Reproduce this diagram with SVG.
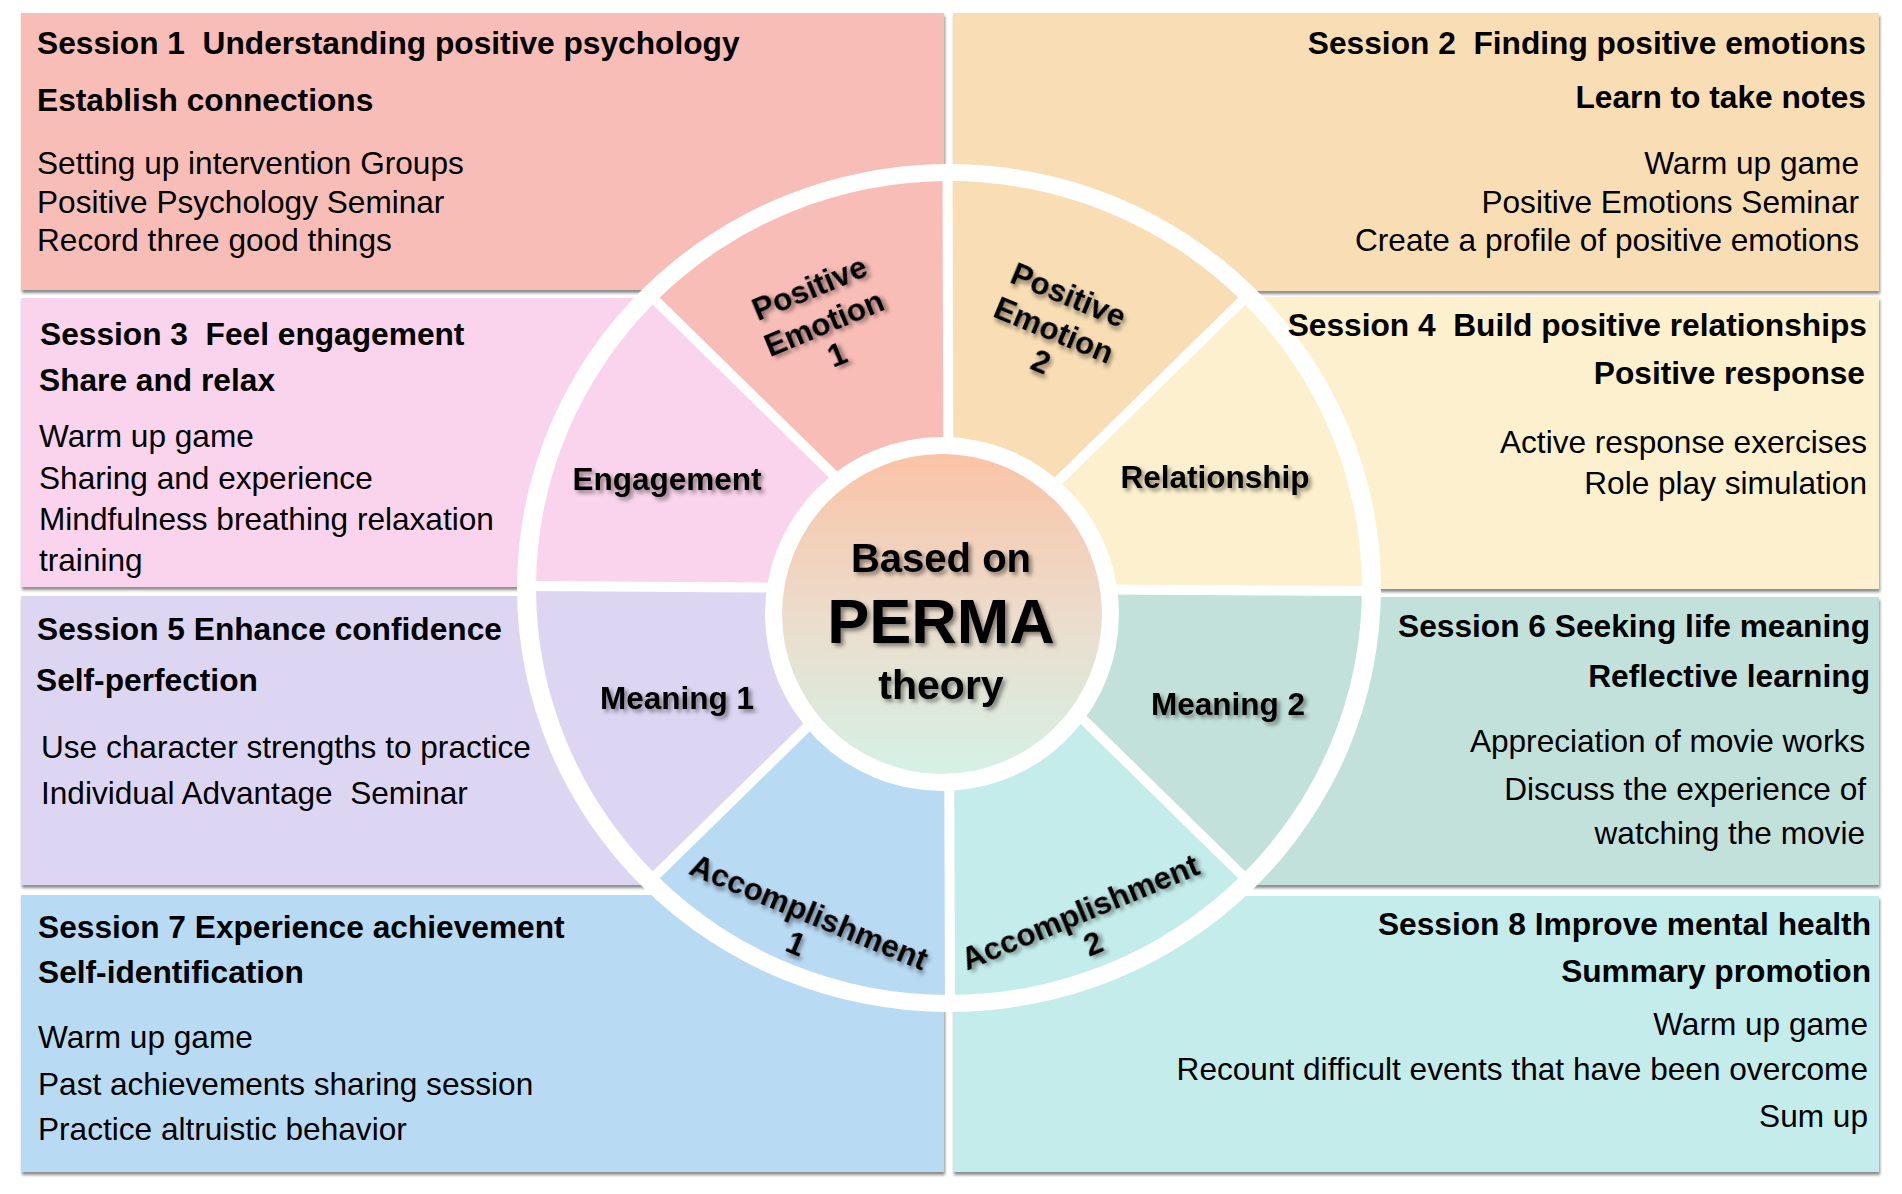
<svg xmlns="http://www.w3.org/2000/svg" width="1902" height="1194" viewBox="0 0 1902 1194">
<defs>
<style>
text{font-family:"Liberation Sans",Arial,sans-serif;fill:#000}
.h{font-size:31.7px;font-weight:bold}
.b{font-size:31.6px}
.r{text-anchor:end}
.w{font-size:31.5px;font-weight:bold;text-anchor:middle}
.c{font-weight:bold;text-anchor:middle}
.spoke{stroke:#fff;stroke-width:10;fill:none}
.panel{filter:url(#psh)}
.lbl{filter:url(#tsh)}
</style>
<filter id="psh" x="-5%" y="-5%" width="110%" height="115%"><feDropShadow dx="1" dy="3" stdDeviation="1.8" flood-color="#6e6e6e" flood-opacity="0.8"/></filter>
<filter id="tsh" x="-30%" y="-40%" width="160%" height="180%"><feDropShadow dx="3" dy="3" stdDeviation="2" flood-color="#000" flood-opacity="0.45"/></filter>
<linearGradient id="cg" x1="0" y1="0" x2="0" y2="1"><stop offset="0" stop-color="#FAC3A6"/><stop offset="0.5" stop-color="#ECDCCB"/><stop offset="1" stop-color="#D5F1E5"/></linearGradient>
</defs>
<rect width="1902" height="1194" fill="#fff"/>
<g id="panels">
<rect id="p1-bg" class="panel" x="21" y="13" width="923" height="277" fill="#F8BDB6"/>
<rect id="p2-bg" class="panel" x="953" y="13" width="926" height="278" fill="#F8DDB5"/>
<rect id="p3-bg" class="panel" x="21" y="298" width="923" height="289" fill="#F9D4EC"/>
<rect id="p4-bg" class="panel" x="953" y="297" width="926" height="292" fill="#FCF0CE"/>
<rect id="p5-bg" class="panel" x="21" y="596" width="923" height="289" fill="#DDD6F3"/>
<rect id="p6-bg" class="panel" x="953" y="597" width="926" height="288" fill="#C2E1DA"/>
<rect id="p7-bg" class="panel" x="21" y="895" width="923" height="277" fill="#B9DAF3"/>
<rect id="p8-bg" class="panel" x="953" y="896" width="926" height="276" fill="#C3ECEA"/>
</g>
<g id="wheel">
<ellipse cx="949" cy="588" rx="432" ry="424" fill="#fff"/>
<path id="s-pe2" d="M949,588 L949,181 A413,407 0 0 1 1241.04,300.21 Z" fill="#F8DDB5"/>
<path id="s-rel" d="M949,588 L1241.04,300.21 A413,407 0 0 1 1362,588 Z" fill="#FCF0CE"/>
<path id="s-m2" d="M949,588 L1362,588 A413,407 0 0 1 1241.04,875.79 Z" fill="#C2E1DA"/>
<path id="s-a2" d="M949,588 L1241.04,875.79 A413,407 0 0 1 949,995 Z" fill="#C3ECEA"/>
<path id="s-a1" d="M949,588 L949,995 A413,407 0 0 1 656.96,875.79 Z" fill="#B9DAF3"/>
<path id="s-m1" d="M949,588 L656.96,875.79 A413,407 0 0 1 536,588 Z" fill="#DDD6F3"/>
<path id="s-eng" d="M949,588 L536,588 A413,407 0 0 1 656.96,300.21 Z" fill="#F9D4EC"/>
<path id="s-pe1" d="M949,588 L656.96,300.21 A413,407 0 0 1 949,181 Z" fill="#F8BDB6"/>
</g>
<g id="connectors">
<line class="spoke" x1="947.5" y1="172" x2="950" y2="1004"/>
<line class="spoke" x1="526" y1="586" x2="1372" y2="591" stroke-width="11"/>
<line class="spoke" x1="652" y1="297" x2="1246" y2="879"/>
<line class="spoke" x1="1246" y1="297" x2="652" y2="879"/>
</g>
<g id="center">
<circle cx="942" cy="614" r="177" fill="#fff"/>
<circle cx="942" cy="614" r="160" fill="url(#cg)"/>
<g class="lbl">
<text class="c" x="941" y="572" font-size="40">Based on</text>
<text class="c" x="941" y="643" font-size="63">PERMA</text>
<text class="c" x="941" y="699" font-size="41">theory</text>
</g>
</g>
<g id="lbl-pe1" class="lbl" transform="translate(824,323) rotate(-22.5)"><text class="w" y="-27">Positive</text><text class="w" y="11">Emotion</text><text class="w" y="45">1</text></g>
<g id="lbl-pe2" class="lbl" transform="translate(1054,330) rotate(22.5)"><text class="w" y="-27">Positive</text><text class="w" y="11">Emotion</text><text class="w" y="45">2</text></g>
<g id="lbl-eng" class="lbl"><text class="w" x="667" y="490">Engagement</text></g>
<g id="lbl-rel" class="lbl"><text class="w" x="1215" y="488">Relationship</text></g>
<g id="lbl-m1" class="lbl"><text class="w" x="677" y="709">Meaning 1</text></g>
<g id="lbl-m2" class="lbl"><text class="w" x="1228" y="715">Meaning 2</text></g>
<g id="lbl-a1" class="lbl" transform="translate(809,912) rotate(22.5)"><text class="w" y="11">Accomplishment</text><text class="w" y="45">1</text></g>
<g id="lbl-a2" class="lbl" transform="translate(1080,912) rotate(-22.5)"><text class="w" y="11">Accomplishment</text><text class="w" y="45">2</text></g>
<g id="session1">
<text class="h" x="37" y="54" xml:space="preserve">Session 1  Understanding positive psychology</text>
<text class="h" x="37" y="111">Establish connections</text>
<text class="b" x="37" y="174">Setting up intervention Groups</text>
<text class="b" x="37" y="213">Positive Psychology Seminar</text>
<text class="b" x="37" y="251">Record three good things</text>
</g>
<g id="session2">
<text class="h r" x="1866" y="54" xml:space="preserve">Session 2  Finding positive emotions</text>
<text class="h r" x="1866" y="108">Learn to take notes</text>
<text class="b r" x="1859" y="174">Warm up game</text>
<text class="b r" x="1859" y="213">Positive Emotions Seminar</text>
<text class="b r" x="1859" y="251">Create a profile of positive emotions</text>
</g>
<g id="session3">
<text class="h" x="40" y="345" xml:space="preserve">Session 3  Feel engagement</text>
<text class="h" x="39" y="391">Share and relax</text>
<text class="b" x="39" y="447">Warm up game</text>
<text class="b" x="39" y="489">Sharing and experience</text>
<text class="b" x="39" y="530">Mindfulness breathing relaxation</text>
<text class="b" x="39" y="571">training</text>
</g>
<g id="session4">
<text class="h r" x="1867" y="336" xml:space="preserve">Session 4  Build positive relationships</text>
<text class="h r" x="1865" y="384">Positive response</text>
<text class="b r" x="1867" y="453">Active response exercises</text>
<text class="b r" x="1867" y="494">Role play simulation</text>
</g>
<g id="session5">
<text class="h" x="37" y="640">Session 5 Enhance confidence</text>
<text class="h" x="36" y="691">Self-perfection</text>
<text class="b" x="41" y="758">Use character strengths to practice</text>
<text class="b" x="41" y="804" xml:space="preserve">Individual Advantage  Seminar</text>
</g>
<g id="session6">
<text class="h r" x="1870" y="637">Session 6 Seeking life meaning</text>
<text class="h r" x="1870" y="687">Reflective learning</text>
<text class="b r" x="1865" y="752">Appreciation of movie works</text>
<text class="b r" x="1866" y="800">Discuss the experience of</text>
<text class="b r" x="1865" y="844">watching the movie</text>
</g>
<g id="session7">
<text class="h" x="38" y="938">Session 7 Experience achievement</text>
<text class="h" x="38" y="983">Self-identification</text>
<text class="b" x="38" y="1048">Warm up game</text>
<text class="b" x="38" y="1095">Past achievements sharing session</text>
<text class="b" x="38" y="1140">Practice altruistic behavior</text>
</g>
<g id="session8">
<text class="h r" x="1871" y="935">Session 8 Improve mental health</text>
<text class="h r" x="1871" y="982">Summary promotion</text>
<text class="b r" x="1868" y="1035">Warm up game</text>
<text class="b r" x="1868" y="1080">Recount difficult events that have been overcome</text>
<text class="b r" x="1868" y="1127">Sum up</text>
</g>
</svg>
